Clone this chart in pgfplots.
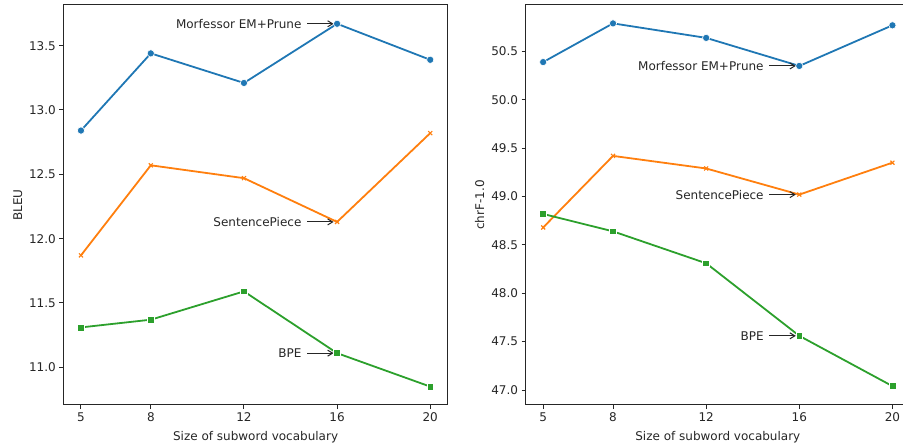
\documentclass[border=0pt]{standalone}
\usepackage{pgfplots}
\pgfplotsset{compat=1.18}
\usepackage{fontspec}
\setmainfont{DejaVu Sans}
\usetikzlibrary{arrows.meta}

\definecolor{cblue}{HTML}{1F77B4}
\definecolor{corange}{HTML}{FF7F0E}
\definecolor{cgreen}{HTML}{2CA02C}
\colorlet{ink}{black!85}

\pgfplotsset{
  panel/.style={
    scale only axis, width=384.2pt, height=400pt,
    xmin=4.25, xmax=20.75, xtick={5,8,12,16,20},
    font=\fontsize{12}{14}\selectfont,
    tick align=outside, major tick length=4.2pt,
    xtick pos=bottom, ytick pos=left,
    axis line style={ink, line width=1pt},
    every tick/.style={ink, line width=1pt},
    tick label style={ink},
    label style={ink},
    yticklabel style={/pgf/number format/.cd, fixed, fixed zerofill, precision=1},
    /pgf/number format/assume math mode=true,
    xlabel={Size of subword vocabulary},
    xlabel style={yshift=-3pt},
    ylabel style={yshift=0pt},
    clip=false,
  },
  mo/.style={cblue, line width=1.8pt, mark=*, mark size=3.6pt,
    mark options={draw=white, line width=0.6pt, fill=cblue}},
  sp/.style={corange, line width=1.8pt, mark=x, mark size=2.8pt,
    mark options={line width=1.2pt}},
  bp/.style={cgreen, line width=1.8pt, mark=square*, mark size=3.4pt,
    mark options={draw=white, line width=0.6pt, fill=cgreen}},
}
\tikzset{
  ann/.style={anchor=east, inner sep=0pt, text=ink, font=\fontsize{12}{14}\selectfont},
  arr/.style={-{Straight Barb[length=5pt,width=6pt]}, line width=1pt, ink},
}

\newcommand{\annot}[2]{%
  \node[ann] at ([xshift=-35.5pt]axis cs:16,#1) {#2};
  \draw[arr] ([xshift=-30pt]axis cs:16,#1) -- ([xshift=-3.5pt]axis cs:16,#1);
}

\begin{document}
\begin{tikzpicture}[x=1pt,y=1pt]

\begin{axis}[panel, at={(63.5pt,41pt)}, anchor=south west,
  ymin=10.707, ymax=13.816, ytick={11.0,11.5,12.0,12.5,13.0,13.5},
  ylabel={BLEU}]
  \addplot[mo] coordinates {(5,12.84) (8,13.44) (12,13.21) (16,13.67) (20,13.39)};
  \addplot[sp] coordinates {(5,11.87) (8,12.57) (12,12.47) (16,12.13) (20,12.82)};
  \addplot[bp] coordinates {(5,11.31) (8,11.37) (12,11.59) (16,11.11) (20,10.85)};
  \annot{13.67}{Morfessor EM+Prune}
  \annot{12.13}{SentencePiece}
  \annot{11.11}{BPE}
\end{axis}

\begin{axis}[panel, at={(525.7pt,41pt)}, anchor=south west,
  ymin=46.845, ymax=50.98, ytick={47.0,47.5,48.0,48.5,49.0,49.5,50.0,50.5},
  ylabel={chrF-1.0}]
  \addplot[mo] coordinates {(5,50.39) (8,50.79) (12,50.64) (16,50.35) (20,50.77)};
  \addplot[sp] coordinates {(5,48.68) (8,49.42) (12,49.29) (16,49.02) (20,49.35)};
  \addplot[bp] coordinates {(5,48.82) (8,48.64) (12,48.31) (16,47.56) (20,47.04)};
  \annot{50.35}{Morfessor EM+Prune}
  \annot{49.02}{SentencePiece}
  \annot{47.56}{BPE}
\end{axis}

\pgfresetboundingbox
\useasboundingbox (0,0) rectangle (903,446);
\end{tikzpicture}
\end{document}
